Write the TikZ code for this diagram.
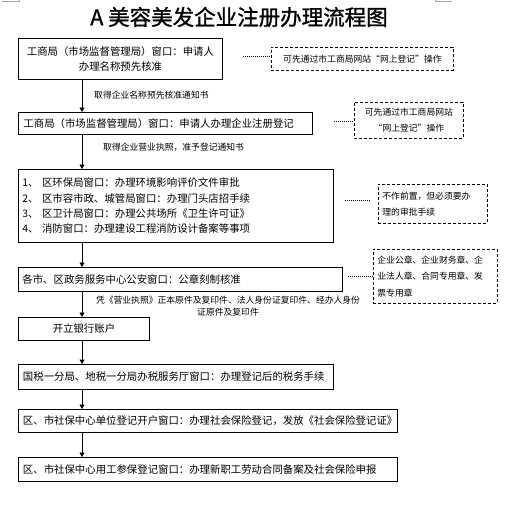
\documentclass[tikz,border=0pt]{standalone}
\usepackage{fontspec}
\setmainfont{Noto Sans CJK SC}
\newfontfamily\mytitlefont{Noto Sans CJK SC}[FakeBold=1.2]
\usetikzlibrary{arrows.meta}
\tikzset{
  x=1pt,y=-1pt,
  box/.style={draw, line width=0.9pt, anchor=north west, inner xsep=0pt, inner ysep=0pt, font=\fontsize{10.4}{15.3}\selectfont},
  dbox/.style={draw, line width=0.8pt, dash pattern=on 3pt off 2pt, anchor=north west, inner sep=0pt, font=\fontsize{8.8}{16}\selectfont},
  lbl/.style={inner sep=0pt, font=\fontsize{8.8}{12}\selectfont},
  arr/.style={line width=0.9pt, -{Triangle[width=5pt,length=4.5pt]}},
  dots/.style={line width=0.6pt, dash pattern=on 0.8pt off 1.2pt},
  cornermark/.style={draw=gray!70, line width=0.6pt}
}
\begin{document}
\begin{tikzpicture}
\useasboundingbox (0,0) rectangle (514,506);
% corner marks
\draw[cornermark] (2,1.7) -- (19,1.7) -- (19,0);
\draw[cornermark] (452,1.7) -- (435,1.7) -- (435,0);
% title
\node[inner sep=0pt, font=\mytitlefont\fontsize{21.5}{24}\selectfont] (title) at (239,17) {A 美容美发企业注册办理流程图};
% main boxes
\node[box, minimum width=204, minimum height=41, align=center] (b1) at (18,38)
  {工商局（市场监督管理局）窗口：申请人\\办理名称预先核准};
\node[box, minimum width=294, minimum height=22, text width=284, align=left, inner xsep=5] (b2) at (18,112)
  {工商局（市场监督管理局）窗口：申请人办理企业注册登记};
\node[box, minimum width=315, minimum height=73, text width=307, align=left, inner xsep=4] (b3) at (18,169)
  {1、 区环保局窗口：办理环境影响评价文件审批\\2、 区市容市政、城管局窗口：办理门头店招手续\\3、 区卫计局窗口：办理公共场所《卫生许可证》\\4、 消防窗口：办理建设工程消防设计备案等事项};
\node[box, minimum width=324, minimum height=24, text width=316, align=left, inner xsep=4] (b4) at (18,267)
  {各市、区政务服务中心公安窗口：公章刻制核准};
\node[box, minimum width=131, minimum height=23, align=center] (b5) at (18,317)
  {开立银行账户};
\node[box, minimum width=315, minimum height=25, text width=306, align=left, inner xsep=4.5] (b6) at (18,364)
  {国税一分局、地税一分局办税服务厅窗口：办理登记后的税务手续};
\node[box, minimum width=379, minimum height=23, text width=370, align=left, inner xsep=4.5] (b7) at (18,409)
  {区、市社保中心单位登记开户窗口：办理社会保险登记，发放《社会保险登记证》};
\node[box, minimum width=379, minimum height=24, text width=370, align=left, inner xsep=4.5] (b8) at (18,457)
  {区、市社保中心用工参保登记窗口：办理新职工劳动合同备案及社会保险申报};
% dashed notes
\node[dbox, minimum width=182, minimum height=23, align=center] (d1) at (271,47)
  {可先通过市工商局网站“网上登记”操作};
\node[dbox, minimum width=109, minimum height=36, align=center] (d2) at (354,102)
  {可先通过市工商局网站\\“网上登记”操作};
\node[dbox, minimum width=109, minimum height=39, text width=101, align=left, inner xsep=4] (d3) at (378,184)
  {不作前置，但必须要办\\理的审批手续};
\node[dbox, minimum width=124, minimum height=54, text width=116, align=left, inner xsep=4, font=\fontsize{8.8}{16.5}\selectfont] (d4) at (373,249)
  {企业公章、企业财务章、企\\业法人章、合同专用章、发\\票专用章};
% arrow labels
\node[lbl, anchor=west] (l1) at (94,95) {取得企业名称预先核准通知书};
\node[lbl, anchor=west] (l2) at (103,147) {取得企业营业执照，准予登记通知书};
\node[lbl, align=center, font=\fontsize{8.8}{12}\selectfont] (l3) at (228,306)
  {凭《营业执照》正本原件及复印件、法人身份证复印件、经办人身份\\证原件及复印件};
% arrows
\coordinate (ax) at (82,0);
\draw[arr] (b1.south -| ax) -- (b2.north -| ax);
\draw[arr] (b2.south -| ax) -- (b3.north -| ax);
\draw[arr] (b3.south -| ax) -- (b4.north -| ax);
\draw[arr] (b4.south -| ax) -- (b5.north -| ax);
\draw[arr] (b5.south -| ax) -- (b6.north -| ax);
\draw[arr] (b6.south -| ax) -- (b7.north -| ax);
\draw[arr] (b7.south -| ax) -- (b8.north -| ax);
% dotted links
\coordinate (c1) at (243,56);
\coordinate (c2) at (334,121);
\coordinate (c3) at (345,200);
\coordinate (c3e) at (370,200);
\coordinate (c4) at (348,276);
\draw[dots] (c1) -- (c1 -| d1.west);
\draw[dots] (c2) -- (c2 -| d2.west);
\draw[dots] (c3) -- (c3e);
\draw[dots] (c4) -- (c4 -| d4.west);
\end{tikzpicture}
\end{document}
